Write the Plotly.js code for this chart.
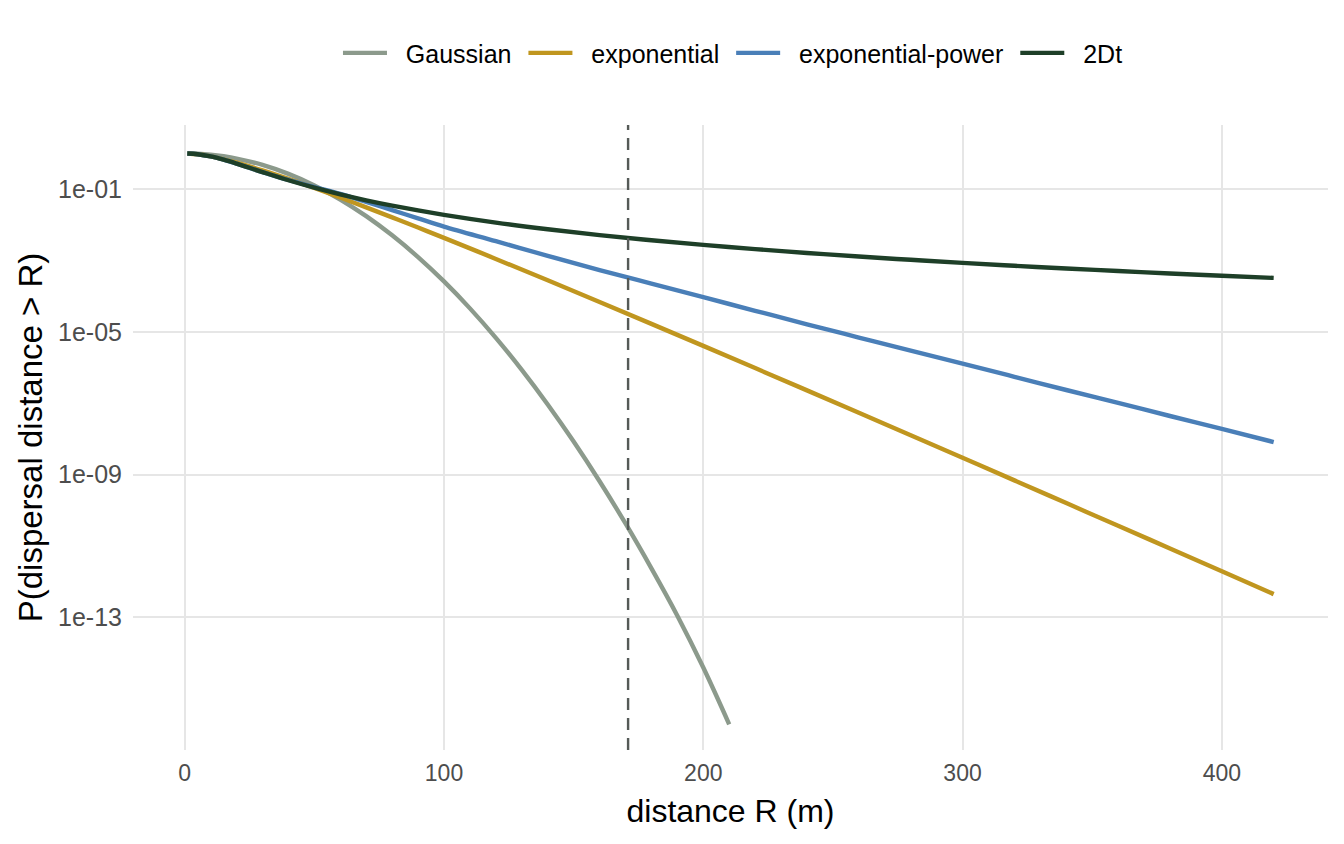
<!DOCTYPE html>
<html>
<head>
<meta charset="utf-8">
<script src="https://cdn.plot.ly/plotly-3.0.1.min.js"></script>
<style>html,body{margin:0;padding:0;background:#fff;}#chart{width:1344px;height:844px;}</style>
</head>
<body>
<div id="chart"></div>
<script>
// distance R (m)
var R_gauss = [1, 5, 10, 15, 20, 30, 40, 50, 60, 70, 80, 90, 100, 110, 120, 130, 140, 150, 160, 170, 180, 190, 200, 210];
var P_gauss = [0.9992, 0.9796, 0.921, 0.830, 0.718, 0.475, 0.2665, 0.1267, 0.0510, 0.01742, 5.05e-3, 1.24e-3, 2.58e-4, 4.54e-5, 6.79e-6, 8.61e-7, 9.23e-8, 8.41e-9, 6.49e-10, 4.25e-11, 2.35e-12, 1.11e-13, 3.9e-15, 1.0e-16];

var R_all = [1, 5, 10, 15, 20, 30, 40, 50, 60, 70, 80, 90, 100, 120, 140, 160, 180, 200, 220, 240, 260, 280, 300, 320, 340, 360, 380, 400, 420];
var P_exp = [0.9973, 0.9438, 0.823, 0.684, 0.551, 0.335, 0.1929, 0.1072, 0.0580, 0.03083, 0.01615, 8.36e-3, 4.29e-3, 1.103e-3, 2.77e-4, 6.85e-5, 1.670e-5, 4.03e-6, 9.63e-7, 2.285e-7, 5.38e-8, 1.264e-8, 2.95e-9, 6.86e-10, 1.589e-10, 3.67e-11, 8.46e-12, 1.942e-12, 4.45e-13];
var P_exppow = [0.997, 0.950, 0.822, 0.665, 0.516, 0.300, 0.180, 0.114, 0.0735, 0.0437, 0.0257, 0.0151, 8.91e-3, 3.47e-3, 1.35e-3, 5.37e-4, 2.24e-4, 9.33e-5, 3.89e-5, 1.62e-5, 6.92e-6, 2.95e-6, 1.29e-6, 5.50e-7, 2.34e-7, 1.02e-7, 4.37e-8, 1.91e-8, 8.13e-9];
var P_2dt = [0.9979, 0.950, 0.823, 0.6655, 0.517, 0.2996, 0.1767, 0.1093, 0.0712, 0.0485, 0.03437, 0.02518, 0.01895, 0.01150, 7.49e-3, 5.14e-3, 3.68e-3, 2.73e-3, 2.079e-3, 1.621e-3, 1.289e-3, 1.041e-3, 8.54e-4, 7.09e-4, 5.95e-4, 5.05e-4, 4.32e-4, 3.73e-4, 3.24e-4];

var vlineR = 171;
var seriesNames = ["Gaussian", "exponential", "exponential-power", "2Dt"];
var yTickVals = [1e-1, 1e-5, 1e-9, 1e-13];
var yTickText = ["1e-01", "1e-05", "1e-09", "1e-13"];
var xTickVals = [0, 100, 200, 300, 400];

var colors = ["#8C9A8C", "#C0961F", "#4A7FB8", "#1E3F28"];
var lw = 4.4;
var padL = "\u00A0\u00A0";
var padR = "\u00A0";

function tr(x, y, i) {
  return {x: x, y: y, name: padL + seriesNames[i] + padR, type: "scatter", mode: "lines",
    line: {color: colors[i], width: lw, shape: "spline", smoothing: 1}};
}

var data = [
  tr(R_gauss, P_gauss, 0),
  tr(R_all, P_exp, 1),
  tr(R_all, P_exppow, 2),
  tr(R_all, P_2dt, 3)
];

var font = "'Liberation Sans', Arial, Helvetica, sans-serif";

var layout = {
  width: 1344, height: 844,
  margin: {l: 133, r: 16, t: 125, b: 94},
  paper_bgcolor: "#ffffff", plot_bgcolor: "#ffffff",
  font: {family: font, color: "#000"},
  showlegend: true,
  legend: {orientation: "h", x: 0.505, xanchor: "center", y: 1.115, yanchor: "middle",
    font: {size: 25, color: "#000", family: font}, itemwidth: 44},
  xaxis: {
    range: [-19.95, 440.95], tickvals: xTickVals, ticktext: xTickVals.map(String),
    showgrid: true, gridcolor: "#E6E6E6", gridwidth: 2, zeroline: false,
    showline: false, ticks: "", ticklabelstandoff: 7, tickfont: {size: 23, color: "#4D4D4D", family: font},
    title: {text: "distance R (m)", font: {size: 32, color: "#000", family: font}, standoff: 14}
  },
  yaxis: {
    type: "log", range: [-16.72, 0.796], tickvals: yTickVals, ticktext: yTickText,
    showgrid: true, gridcolor: "#E6E6E6", gridwidth: 2, zeroline: false,
    showline: false, ticks: "", ticklabelstandoff: 10, tickfont: {size: 25, color: "#4D4D4D", family: font},
    title: {text: "P(dispersal distance > R)", font: {size: 33, color: "#000", family: font}, standoff: 5}
  },
  shapes: [{type: "line", xref: "x", yref: "paper", x0: vlineR, x1: vlineR, y0: 0, y1: 1,
    line: {color: "#555A57", width: 2.4, dash: "12px,8px"}, layer: "above"}]
};

Plotly.newPlot("chart", data, layout, {displayModeBar: false, staticPlot: true});
</script>
</body>
</html>
